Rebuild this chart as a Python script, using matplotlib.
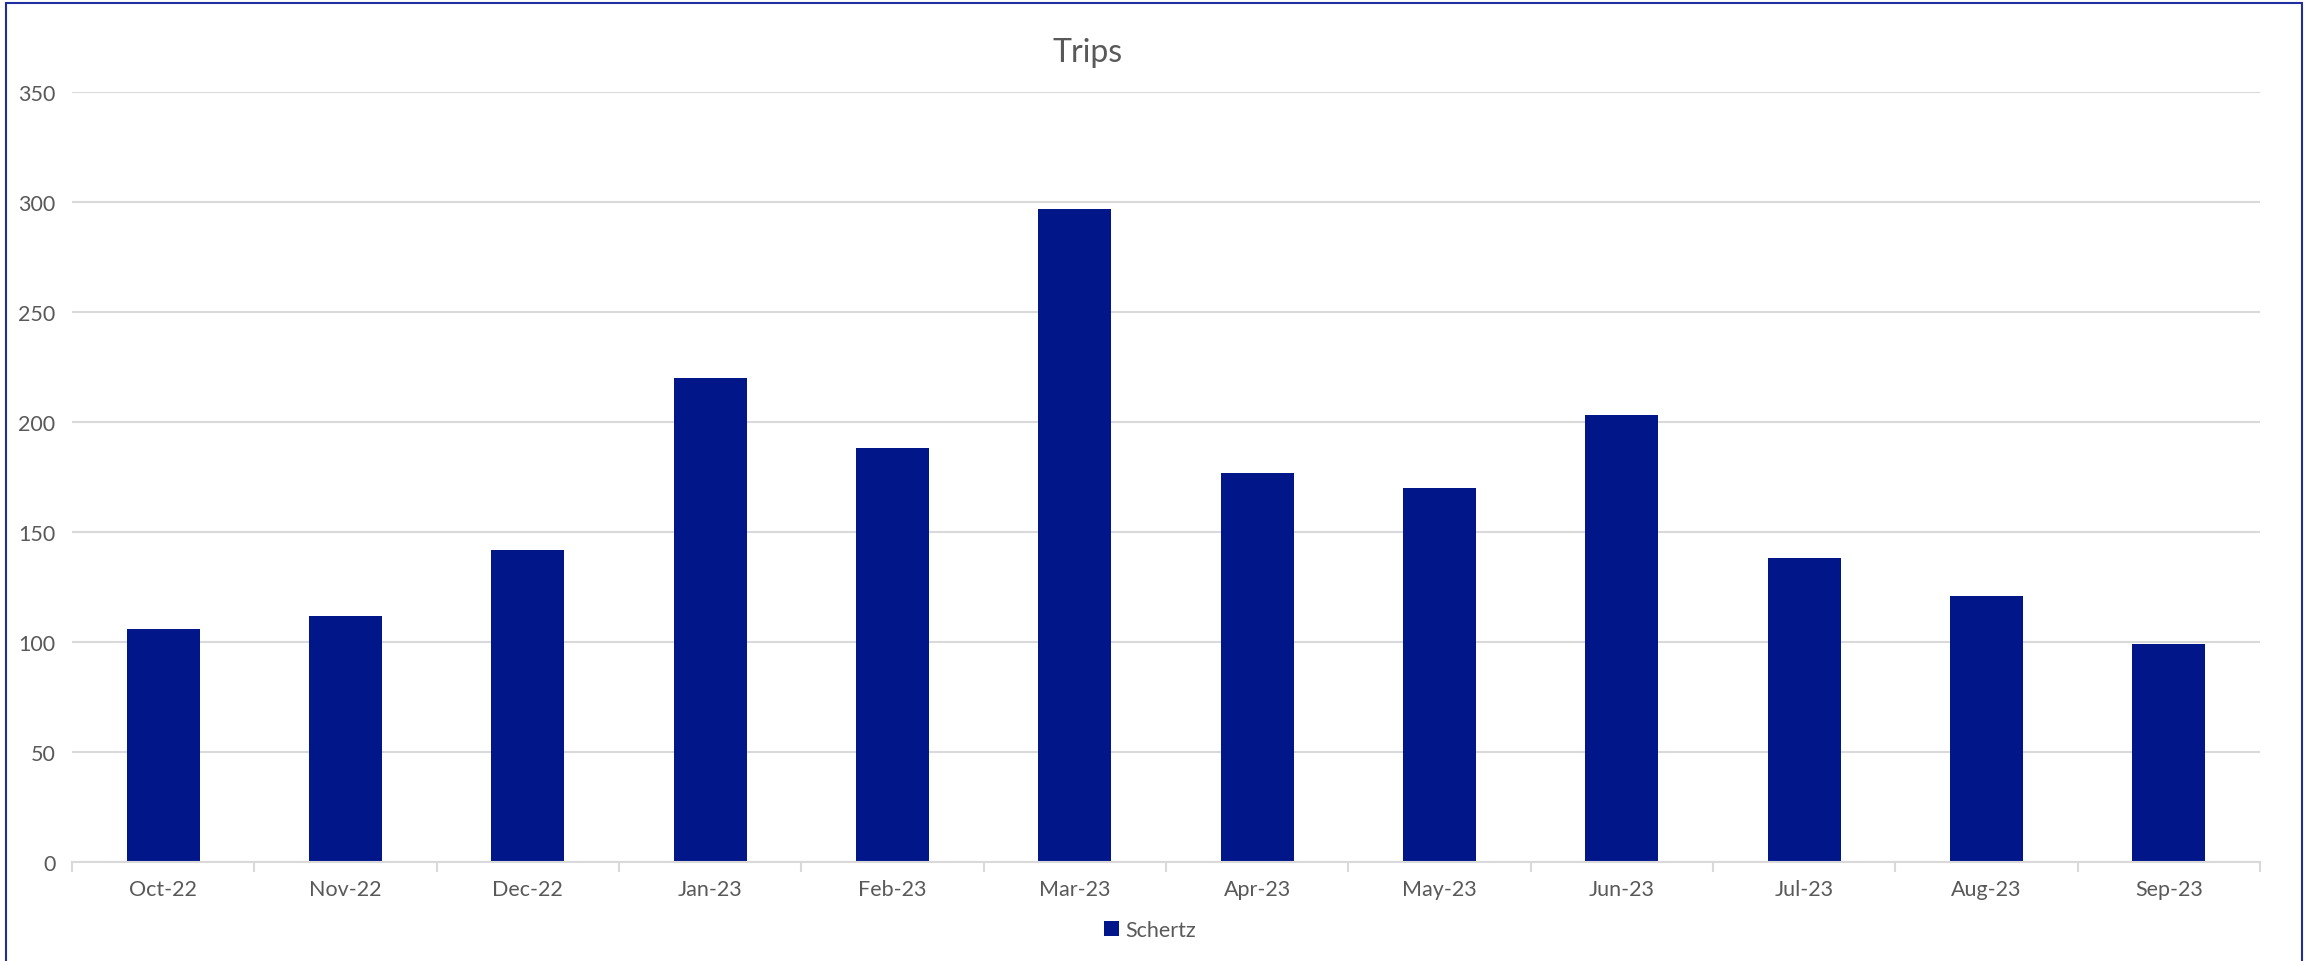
import matplotlib
matplotlib.use("Agg")
import matplotlib.pyplot as plt
from matplotlib.patches import Rectangle

# data
months = ["Oct-22", "Nov-22", "Dec-22", "Jan-23", "Feb-23", "Mar-23",
          "Apr-23", "May-23", "Jun-23", "Jul-23", "Aug-23", "Sep-23"]
trips = [106, 112, 142, 220, 188, 297, 177, 170, 203, 138, 121, 99]
series_name = "Schertz"
y_ticks = [0, 50, 100, 150, 200, 250, 300, 350]

bar_color = "#001689"
text_color = "#595959"
grid_color = "#D9D9D9"

plt.rcParams['font.family'] = ['Lato', 'DejaVu Sans']

W, H = 2305, 962
fig = plt.figure(figsize=(W / 100, H / 100), dpi=100)
ax = fig.add_axes([72 / W, 1 - 863 / H, (2260 - 72) / W, (863 - 93) / H])

xs = list(range(len(months)))
bars = ax.bar(xs, trips, width=0.4, color=bar_color, label=series_name, zorder=3)

ax.set_ylim(0, 350)
ax.set_xlim(-0.5, len(months) - 0.5)
ax.set_yticks(y_ticks)
ax.set_yticklabels([str(v) for v in y_ticks])
ax.yaxis.grid(True, color=grid_color, linewidth=1.5, zorder=0)
ax.tick_params(axis='y', length=0, pad=12, labelsize=15.5, labelcolor=text_color)

# category labels at centres, tick marks at the boundaries
ax.set_xticks(xs)
ax.set_xticklabels(months)
ax.tick_params(axis='x', which='major', length=0, pad=12, labelsize=15.5, labelcolor=text_color)
ax.set_xticks([i - 0.5 for i in range(len(months) + 1)], minor=True)
ax.tick_params(axis='x', which='minor', length=7, width=1.5, color=grid_color)

for s in ['top', 'right', 'left']:
    ax.spines[s].set_visible(False)
ax.spines['bottom'].set_color(grid_color)
ax.spines['bottom'].set_linewidth(1.5)
ax.spines['bottom'].set_zorder(4)

fig.text(1088 / W, 1 - 53 / H, "Trips", ha='center', va='center',
         fontsize=23, color=text_color)

leg = fig.legend(handles=[bars], labels=[series_name], loc='center',
                 bbox_to_anchor=(1150 / W, 1 - 931 / H), frameon=False,
                 fontsize=15.5, handlelength=0.7, handleheight=0.7,
                 handletextpad=0.3, labelcolor=text_color)

# outer chart border
fig.patches.append(Rectangle((6 / W, -0.01), (2302 - 6) / W, 1 - 4 / H + 0.01,
                             transform=fig.transFigure, fill=False,
                             edgecolor="#1F2FA0", linewidth=1.5))

fig.savefig("out.png", dpi=100)
